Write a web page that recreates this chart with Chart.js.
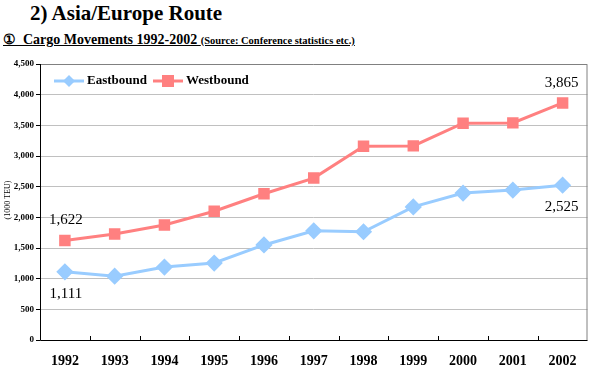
<!DOCTYPE html>
<html>
<head>
<meta charset="utf-8">
<script src="https://cdn.jsdelivr.net/npm/chart.js@4"></script>
<style>
  body { margin: 0; background: #fff; }
  #wrap { position: relative; width: 597px; height: 366px; }
  #title { position: absolute; left: 30px; top: 1px; font: bold 21px 'Liberation Serif'; }
  #sub { position: absolute; left: 3px; top: 31px; font: bold 14px 'Liberation Serif'; text-decoration: underline; white-space: nowrap; }
  #sub small { font: bold 10.5px 'Liberation Serif'; }
  canvas { position: absolute; left: 0; top: 0; }
</style>
</head>
<body>
<div id="wrap">
  <div id="title">2) Asia/Europe Route</div>
  <div id="sub">①&nbsp; Cargo Movements 1992-2002 <small>(Source: Conference statistics etc.)</small></div>
  <canvas id="grafico" width="597" height="366"></canvas>
</div>
<script>
const years = ['1992', '1993', '1994', '1995', '1996', '1997', '1998', '1999', '2000', '2001', '2002'];
const eastbound = [1111, 1040, 1190, 1255, 1550, 1780, 1765, 2170, 2395, 2445, 2525];
const westbound = [1622, 1730, 1875, 2100, 2385, 2640, 3160, 3165, 3535, 3540, 3865];
const seriesNames = ['Eastbound', 'Westbound'];
const unitLabel = '(1000 TEU)';

const fmt = v => v.toLocaleString('en-US');

// etiquetas de valor en los extremos
const etiquetas = {
    id: 'etiquetas',
    afterDatasetsDraw(chart) {
        const c = chart.ctx;
        const x = chart.scales.x, y = chart.scales.y;
        const last = years.length - 1;
        c.save();
        c.font = '15px "Liberation Serif"';
        c.fillStyle = '#000';
        c.textAlign = 'center';
        c.textBaseline = 'middle';
        c.fillText(fmt(westbound[0]), x.getPixelForValue(0) + 1, y.getPixelForValue(westbound[0]) - 20);
        c.fillText(fmt(eastbound[0]), x.getPixelForValue(0) + 1, y.getPixelForValue(eastbound[0]) + 22);
        c.fillText(fmt(westbound[last]), x.getPixelForValue(last) - 1, y.getPixelForValue(westbound[last]) - 20);
        c.fillText(fmt(eastbound[last]), x.getPixelForValue(last) - 1, y.getPixelForValue(eastbound[last]) + 22);
        c.restore();
    }
};

// marco, ejes, titulo eje y y leyenda
const marco = {
    id: 'marco',
    beforeDatasetsDraw(chart) {
        const c = chart.ctx, a = chart.chartArea;
        c.save();
        c.strokeStyle = '#808080';
        c.lineWidth = 1;
        c.beginPath();
        c.moveTo(a.left, a.top + 0.5);
        c.lineTo(a.right - 0.5, a.top + 0.5);
        c.lineTo(a.right - 0.5, a.bottom);
        c.stroke();
        c.strokeStyle = '#000';
        c.beginPath();
        c.moveTo(a.left + 0.5, a.top);
        c.lineTo(a.left + 0.5, a.bottom + 0.5);
        c.lineTo(a.right, a.bottom + 0.5);
        c.stroke();
        // marcas del eje x hacia dentro
        const xs = chart.scales.x;
        c.beginPath();
        for (let i = 1; i < years.length; i++) {
            const px = Math.round((xs.getPixelForValue(i - 1) + xs.getPixelForValue(i)) / 2) + 0.5;
            c.moveTo(px, a.bottom);
            c.lineTo(px, a.bottom - 4);
        }
        c.stroke();
        // titulo eje y
        c.translate(8, 200);
        c.rotate(-Math.PI / 2);
        c.font = '8px "Liberation Serif"';
        c.fillStyle = '#000';
        c.textAlign = 'center';
        c.textBaseline = 'middle';
        c.fillText(unitLabel, 0, 0);
        c.restore();
    },
    afterDatasetsDraw(chart) {
        const c = chart.ctx;
        const ds = chart.data.datasets;
        let x = 54;
        const yy = 81;
        c.save();
        c.font = 'bold 13px "Liberation Serif"';
        c.textBaseline = 'middle';
        ds.forEach((d, i) => {
            c.strokeStyle = d.borderColor;
            c.fillStyle = d.pointBackgroundColor;
            c.lineWidth = 3;
            c.beginPath();
            c.moveTo(x, yy);
            c.lineTo(x + 30, yy);
            c.stroke();
            const cx = x + 15;
            c.beginPath();
            if (d.pointStyle === 'rectRot') {
                c.moveTo(cx, yy - 6); c.lineTo(cx + 6, yy); c.lineTo(cx, yy + 6); c.lineTo(cx - 6, yy);
            } else {
                c.rect(cx - 6, yy - 6, 12, 12);
            }
            c.closePath();
            c.fill();
            c.fillStyle = '#000';
            c.fillText(d.label, x + 33, yy);
            x += 33 + c.measureText(d.label).width + 6;
        });
        c.restore();
    }
};

new Chart(document.getElementById('grafico'), {
    type: 'line',
    data: {
        labels: years,
        datasets: [{
            label: seriesNames[0],
            data: eastbound,
            borderColor: '#99ccff',
            backgroundColor: '#99ccff',
            pointBackgroundColor: '#99ccff',
            pointBorderColor: '#99ccff',
            pointStyle: 'rectRot',
            pointRadius: 6.5,
            borderWidth: 3,
            tension: 0
        }, {
            label: seriesNames[1],
            data: westbound,
            borderColor: '#ff8080',
            backgroundColor: '#ff8080',
            pointBackgroundColor: '#ff8080',
            pointBorderColor: '#ff8080',
            pointStyle: 'rect',
            pointRadius: 6,
            borderWidth: 3,
            tension: 0
        }]
    },
    options: {
        responsive: false,
        animation: false,
        layout: { padding: { top: 64, right: 4, left: 0, bottom: 0 } },
        plugins: {
            legend: { display: false },
            tooltip: { enabled: false }
        },
        scales: {
            x: {
                offset: true,
                afterFit: s => { s.height = 26; },
                border: { display: false },
                grid: { display: false },
                ticks: {
                    color: '#000',
                    padding: 5,
                    maxRotation: 0,
                    font: { family: "'Liberation Serif'", size: 14, weight: 'bold' }
                }
            },
            y: {
                min: 0,
                max: 4500,
                afterFit: s => { s.width = 40; },
                border: { display: false },
                grid: { color: '#c0c0c0', tickLength: 4, tickColor: '#000' },
                ticks: {
                    stepSize: 500,
                    color: '#000',
                    padding: 2,
                    callback: v => fmt(v),
                    font: { family: "'Liberation Serif'", size: 9, weight: 'bold' }
                }
            }
        }
    },
    plugins: [marco, etiquetas]
});
</script>
</body>
</html>
